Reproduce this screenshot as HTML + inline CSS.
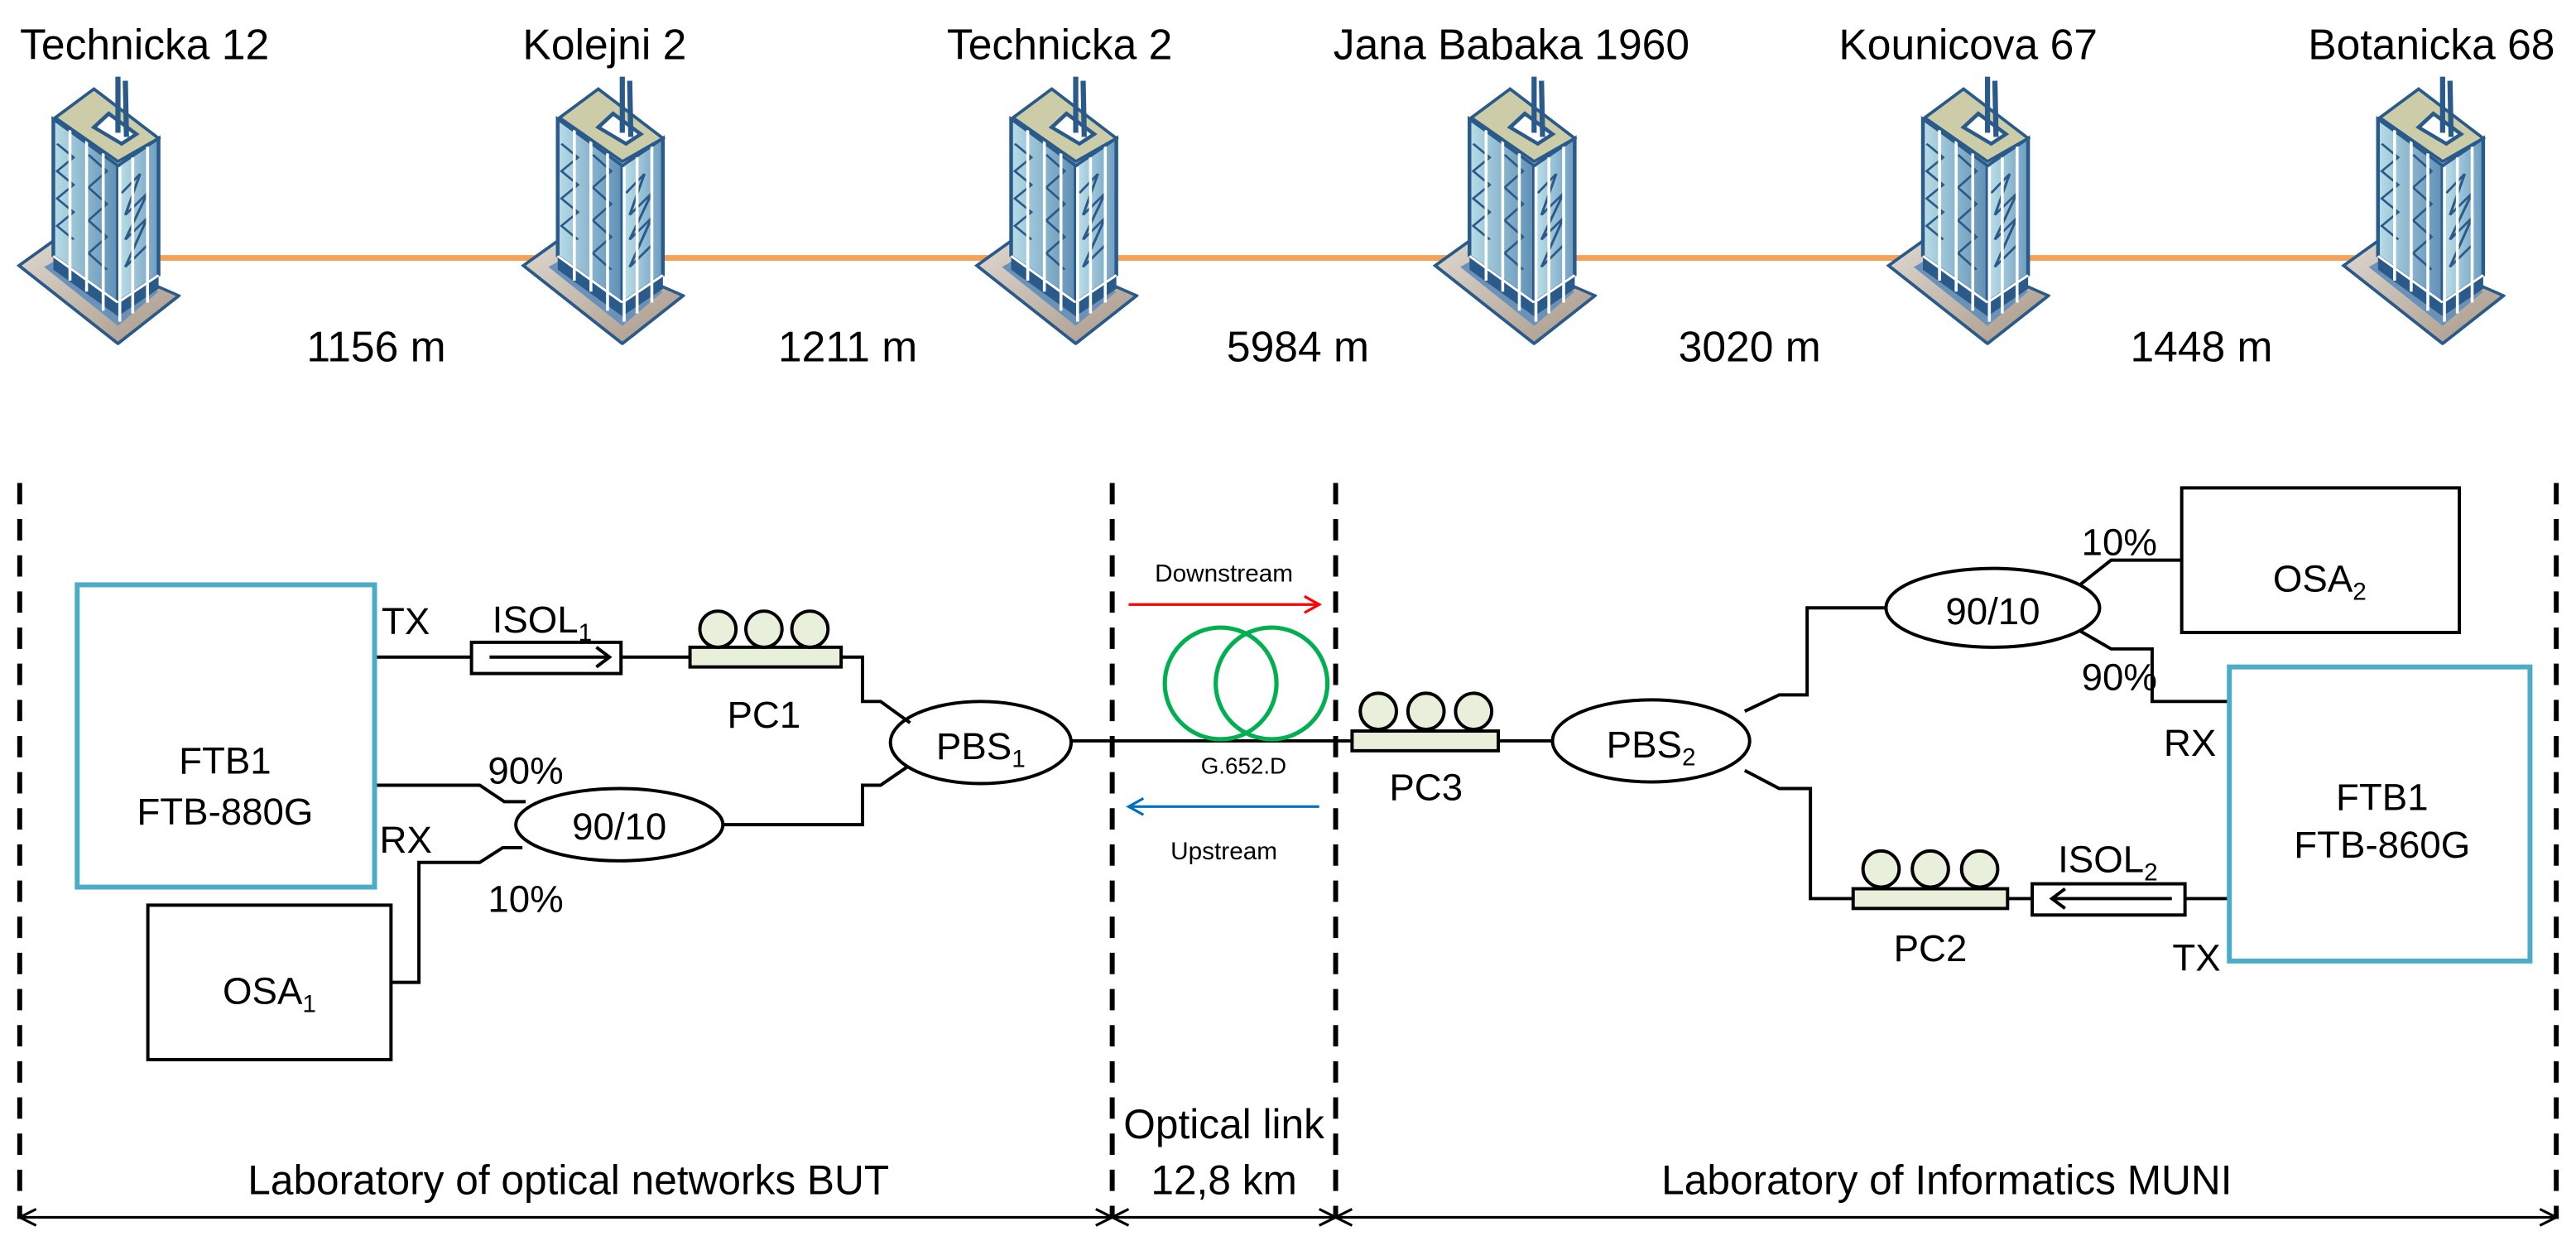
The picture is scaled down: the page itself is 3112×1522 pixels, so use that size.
<!DOCTYPE html>
<html><head><meta charset="utf-8"><style>html,body{margin:0;padding:0;background:#fff}svg{display:block}</style></head>
<body>
<svg width="3112" height="1522" viewBox="0 0 1568 767" preserveAspectRatio="none" xmlns="http://www.w3.org/2000/svg" font-family="Liberation Sans, sans-serif">
<defs>
<linearGradient id="lf" x1="0" x2="1"><stop offset="0" stop-color="#b8dde6"/><stop offset="1" stop-color="#5f8fb5"/></linearGradient>
<linearGradient id="rf" x1="0" x2="1"><stop offset="0" stop-color="#bfe2ea"/><stop offset="1" stop-color="#6d9cc0"/></linearGradient>
<linearGradient id="bs" x1="0" x2="1" y1="0" y2="1"><stop offset="0" stop-color="#ded8d0"/><stop offset="1" stop-color="#a89888"/></linearGradient>
<symbol id="bld" viewBox="85 125 445 990" preserveAspectRatio="none">
<polygon points="92,825 185,735 525,935 360,1110" fill="url(#bs)" stroke="#2a5a8a" stroke-width="10"/>
<polygon points="160,830 200,800 470,920 360,1045" fill="#6a92b8"/>
<polygon points="185,790 360,960 360,1010 185,840" fill="#2a5a8a"/>
<polygon points="360,960 470,860 470,910 360,1010" fill="#2a5a8a"/>
<polygon points="185,290 360,460 360,960 185,790" fill="url(#lf)" stroke="#2a5a8a" stroke-width="10"/>
<polygon points="360,460 470,360 470,860 360,960" fill="url(#rf)" stroke="#2a5a8a" stroke-width="10"/>
<g stroke="#2a5a8a" stroke-width="7" fill="none">
<polyline points="195,380 240,430 195,480 240,530 195,580 240,630 195,680 240,730"/>
<polyline points="280,420 330,480 280,540 330,600 280,660 330,720 280,780 330,840"/>
<polyline points="370,560 420,490 380,640 440,560 380,730 440,650 380,830 440,750"/>
</g>
<g stroke="#fff" stroke-width="8">
<line x1="230" y1="330" x2="230" y2="880"/><line x1="275" y1="370" x2="275" y2="920"/>
<line x1="320" y1="415" x2="320" y2="990"/><line x1="365" y1="465" x2="365" y2="1030"/>
<line x1="400" y1="430" x2="400" y2="1000"/><line x1="440" y1="390" x2="440" y2="960"/>
<line x1="185" y1="790" x2="360" y2="960"/><line x1="360" y1="960" x2="470" y2="860"/>
</g>
<polygon points="190,285 295,180 470,360 360,445" fill="#cccca8" stroke="#2a5a8a" stroke-width="10"/>
<polygon points="295,320 335,270 410,345 370,380" fill="#fff" stroke="#2a5a8a" stroke-width="12"/>
<line x1="360" y1="135" x2="360" y2="340" stroke="#2a5a8a" stroke-width="14"/>
<line x1="380" y1="150" x2="383" y2="355" stroke="#2a5a8a" stroke-width="14"/>
</symbol>
</defs>

<!-- top -->
<line x1="95" y1="157" x2="1445" y2="157" stroke="#f4a259" stroke-width="3.5"/>
<g>
<use href="#bld" x="10" y="45" width="100" height="165"/>
<use href="#bld" x="317" y="45" width="100" height="165"/>
<use href="#bld" x="593" y="45" width="100" height="165"/>
<use href="#bld" x="872" y="45" width="100" height="165"/>
<use href="#bld" x="1148" y="45" width="100" height="165"/>
<use href="#bld" x="1425" y="45" width="100" height="165"/>
</g>
<g font-size="26" text-anchor="middle" fill="#000">
<text x="88" y="36">Technicka 12</text>
<text x="368" y="36">Kolejni 2</text>
<text x="645" y="36">Technicka 2</text>
<text x="920" y="36">Jana Babaka 1960</text>
<text x="1198" y="36">Kounicova 67</text>
<text x="1480" y="36">Botanicka 68</text>
<text x="229" y="220">1156 m</text>
<text x="516" y="220">1211 m</text>
<text x="790" y="220">5984 m</text>
<text x="1065" y="220">3020 m</text>
<text x="1340" y="220">1448 m</text>
</g>

<!-- dashed -->
<g stroke="#000" stroke-width="3" stroke-dasharray="13,9">
<line x1="12" y1="294" x2="12" y2="742"/>
<line x1="677" y1="294" x2="677" y2="742"/>
<line x1="813" y1="294" x2="813" y2="742"/>
<line x1="1556" y1="294" x2="1556" y2="742"/>
</g>
<!-- bottom arrows -->
<g stroke="#000" stroke-width="1.6" fill="none">
<line x1="12" y1="741" x2="1556" y2="741"/>
<polyline points="22,736 12,741 22,746"/><polyline points="667,736 677,741 667,746"/>
<polyline points="687,736 677,741 687,746"/><polyline points="803,736 813,741 803,746"/>
<polyline points="823,736 813,741 823,746"/><polyline points="1546,736 1556,741 1546,746"/>
</g>
<g font-size="25" text-anchor="middle">
<text x="346" y="727">Laboratory of optical networks BUT</text>
<text x="745" y="693">Optical link</text>
<text x="745" y="727">12,8 km</text>
<text x="1185" y="727">Laboratory of Informatics MUNI</text>
</g>

<!-- left side -->
<g stroke="#000" stroke-width="2" fill="none">
<line x1="228" y1="400" x2="287" y2="400"/>
<rect x="287" y="391" width="91" height="19"/>
<line x1="298" y1="400" x2="371" y2="400"/><polyline points="363,394 371,400 363,406"/>
<line x1="378" y1="400" x2="420" y2="400"/>
<polyline points="512,400 525,400 525,427 536,427 554,440"/>
<polyline points="440,502 525,502 525,478 536,478 552,467"/>
<polyline points="228,478 292,478 307,488 320,488"/>
<polyline points="318,516 306,516 292,525 255,525 255,598 238,598"/>
<line x1="652" y1="451" x2="823" y2="451"/>
<ellipse cx="597" cy="452" rx="55" ry="25"/>
<ellipse cx="377" cy="502" rx="63" ry="22"/>
<rect x="90" y="551" width="148" height="94"/>
</g>
<rect x="47" y="356" width="181" height="184" fill="none" stroke="#4bacc6" stroke-width="3"/>
<rect x="420" y="394" width="92" height="12" fill="#e8f0dc" stroke="#000" stroke-width="2"/>
<g fill="#e8f0dc" stroke="#000" stroke-width="2"><circle cx="437" cy="383" r="11"/><circle cx="465" cy="383" r="11"/><circle cx="493" cy="383" r="11"/></g>

<g font-size="23" text-anchor="middle">
<text x="137" y="471">FTB1</text>
<text x="137" y="502">FTB-880G</text>
<text x="247" y="386">TX</text>
<text x="247" y="519">RX</text>
<text x="330" y="385">ISOL<tspan font-size="15" dy="5">1</tspan></text>
<text x="465" y="443">PC1</text>
<text x="320" y="477">90%</text>
<text x="320" y="555">10%</text>
<text x="377" y="511">90/10</text>
<text x="597" y="462">PBS<tspan font-size="15" dy="5">1</tspan></text>
<text x="164" y="611">OSA<tspan font-size="15" dy="5">1</tspan></text>
</g>

<!-- middle -->
<g fill="none" stroke="#00b050" stroke-width="2.6"><circle cx="743" cy="416" r="34"/><circle cx="774" cy="416" r="34"/></g>
<g stroke="#ff0000" stroke-width="1.6" fill="none"><line x1="687" y1="368" x2="803" y2="368"/><polyline points="794,363 803,368 794,373"/></g>
<g stroke="#0070c0" stroke-width="1.6" fill="none"><line x1="687" y1="491" x2="803" y2="491"/><polyline points="696,486 687,491 696,496"/></g>
<g font-size="15" text-anchor="middle">
<text x="745" y="354">Downstream</text>
<text x="757" y="471" font-size="14">G.652.D</text>
<text x="745" y="523">Upstream</text>
</g>

<!-- right side -->
<g stroke="#000" stroke-width="2" fill="none">
<line x1="912" y1="451" x2="945" y2="451"/>
<ellipse cx="1005" cy="451" rx="60" ry="25"/>
<polyline points="1062,433 1083,423 1100,423 1100,370 1148,370"/>
<polyline points="1062,469 1083,480 1102,480 1102,547 1128,547"/>
<ellipse cx="1213" cy="370" rx="65" ry="24"/>
<polyline points="1266,356 1285,341 1328,341"/>
<polyline points="1266,384 1285,395 1310,395 1310,427 1357,427"/>
<rect x="1328" y="297" width="169" height="88"/>
<line x1="1222" y1="547" x2="1237" y2="547"/>
<rect x="1237" y="538" width="93" height="19"/>
<line x1="1249" y1="547" x2="1322" y2="547"/><polyline points="1257,541 1249,547 1257,553"/>
<line x1="1330" y1="547" x2="1357" y2="547"/>
</g>
<rect x="1357" y="406" width="183" height="179" fill="none" stroke="#4bacc6" stroke-width="3"/>
<rect x="823" y="445" width="89" height="12" fill="#e8f0dc" stroke="#000" stroke-width="2"/>
<g fill="#e8f0dc" stroke="#000" stroke-width="2"><circle cx="839" cy="433" r="11"/><circle cx="868" cy="433" r="11"/><circle cx="897" cy="433" r="11"/></g>
<rect x="1128" y="541" width="94" height="12" fill="#e8f0dc" stroke="#000" stroke-width="2"/>
<g fill="#e8f0dc" stroke="#000" stroke-width="2"><circle cx="1145" cy="529" r="11"/><circle cx="1175" cy="529" r="11"/><circle cx="1205" cy="529" r="11"/></g>
<g font-size="23" text-anchor="middle">
<text x="868" y="487">PC3</text>
<text x="1005" y="461">PBS<tspan font-size="15" dy="5">2</tspan></text>
<text x="1213" y="380">90/10</text>
<text x="1290" y="338">10%</text>
<text x="1290" y="420">90%</text>
<text x="1412" y="360">OSA<tspan font-size="15" dy="5">2</tspan></text>
<text x="1333" y="460">RX</text>
<text x="1450" y="493">FTB1</text>
<text x="1450" y="522">FTB-860G</text>
<text x="1283" y="531">ISOL<tspan font-size="15" dy="5">2</tspan></text>
<text x="1175" y="585">PC2</text>
<text x="1337" y="591">TX</text>
</g>
</svg>
</body></html>
